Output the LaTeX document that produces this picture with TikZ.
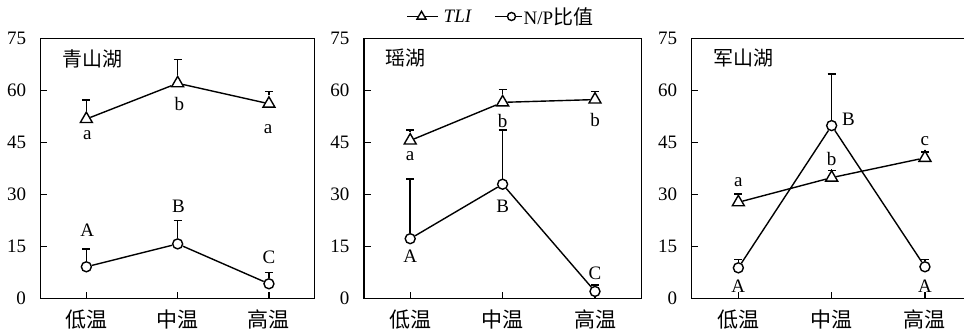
\documentclass[tikz,border=0pt]{standalone}
\usepackage{fontspec}
\setmainfont{Liberation Serif}
\newfontfamily\cjk{Noto Sans CJK SC}
\usetikzlibrary{shapes.geometric,arrows.meta,positioning}

\begin{document}
\begin{tikzpicture}[x=0.5pt,y=0.5pt,line width=0.7pt,font=\fontsize{9.5}{11}\selectfont,
		tri/.style={draw,fill=white,regular polygon,regular polygon sides=3,minimum size=6.9pt,inner sep=0pt},
		ring/.style={draw,fill=white,circle,minimum size=5pt,inner sep=0pt},
		err/.style={line width=0.75pt,-{Bar[width=4pt,line width=0.75pt]}},
		lab/.style={inner sep=0pt}]
	\useasboundingbox (0,0) rectangle (964,332);
	% legend
	\coordinate (la) at (407,315.5);
	\coordinate (lb) at (438,315.5);
	\node[tri,minimum size=5.2pt] (lt) at (421.5,315.5) {};
	\draw (la) -- (lt) -- (lb);
	\node[lab,anchor=west] (ltxt) at (443,315.5) {\textit{TLI}};
	\coordinate (lc) at (495,315.5);
	\coordinate (ld) at (521.5,315.5);
	\node[ring,minimum size=4pt] (lr) at (511.5,315.5) {};
	\draw (lc) -- (lr) -- (ld);
	\node[lab,anchor=west] (rtxt) at (523,315.5) {N/P{\cjk\fontsize{10}{11}\selectfont 比值}};
	% 青山湖
	\begin{scope}[shift={(40.7,33.3)},x=45.65pt,y=1.7345pt]
		\draw (0,0) rectangle (3,75);
		\foreach \v in {0,15,...,75} \node[lab,left=7pt] at (0,\v) {\v};
		\foreach \v in {15,30,45,60} \draw (0,\v) -- ++(3.3pt,0);
		\foreach \i/\t in {0.5/低温,1.5/中温,2.5/高温} {
			\draw (\i,0) -- ++(0,3.5pt);
			\node[lab,font=\cjk\fontsize{10.5}{12}\selectfont] at ([yshift=-10.5pt]\i,0) {\t};}
		\node[lab,font=\cjk,anchor=west] (ttl1) at ([xshift=10.5pt,yshift=-10pt]0,75) {青山湖};
		\node[tri] (t1) at (0.5,51.8) {};
		\node[tri] (t2) at (1.5,62.1) {};
		\node[tri] (t3) at (2.5,56.2) {};
		\draw (t1) -- (t2) -- (t3);
		\node[ring] (n1) at (0.5,9.2) {};
		\node[ring] (n2) at (1.5,15.8) {};
		\node[ring] (n3) at (2.5,4.3) {};
		\draw (n1) -- (n2) -- (n3);
		\coordinate (et1) at (0.5,57.5);
		\coordinate (et2) at (1.5,69.1);
		\coordinate (et3) at (2.5,60);
		\coordinate (en1) at (0.5,14.5);
		\coordinate (en2) at (1.5,22.7);
		\coordinate (en3) at (2.5,7.8);
		\draw[err] (t1.north) -- (et1);
		\draw[err] (t2.north) -- (et2);
		\draw[err] (t3.north) -- (et3);
		\draw[err] (n1.north) -- (en1);
		\draw[err] (n2.north) -- (en2);
		\draw[err] (n3.north) -- (en3);
		\node[lab] at (0.51,47.2) {a};
		\node[lab] at (1.52,56.2) {b};
		\node[lab] at (2.49,48.8) {a};
		\node[lab] at (0.51,19.7) {A};
		\node[lab] at (1.51,26.5) {B};
		\node[lab] at (2.5,12) {C};
	\end{scope}
	% 瑶湖
	\begin{scope}[shift={(364,33.3)},x=46.2pt,y=1.7345pt]
		\draw (0,0) rectangle (3,75);
		\foreach \v in {0,15,...,75} \node[lab,left=7pt] at (0,\v) {\v};
		\foreach \v in {15,30,45,60} \draw (0,\v) -- ++(3.3pt,0);
		\foreach \i/\t in {0.5/低温,1.5/中温,2.5/高温} {
			\draw (\i,0) -- ++(0,3.5pt);
			\node[lab,font=\cjk\fontsize{10.5}{12}\selectfont] at ([yshift=-10.5pt]\i,0) {\t};}
		\node[lab,font=\cjk,anchor=west] (ttl2) at ([xshift=10.5pt,yshift=-10pt]0,75) {瑶湖};
		\node[tri] (t1) at (0.5,45.6) {};
		\node[tri] (t2) at (1.5,56.6) {};
		\node[tri] (t3) at (2.5,57.4) {};
		\draw (t1) -- (t2) -- (t3);
		\node[ring] (n1) at (0.5,17.3) {};
		\node[ring] (n2) at (1.5,33) {};
		\node[ring] (n3) at (2.5,2.1) {};
		\draw (n1) -- (n2) -- (n3);
		\coordinate (et1) at (0.5,48.9);
		\coordinate (et2) at (1.5,60.5);
		\coordinate (et3) at (2.5,60);
		\coordinate (en1) at (0.5,34.7);
		\coordinate (en2) at (1.5,48.9);
		\coordinate (en3) at (2.5,4.2);
		\draw[err] (t1.north) -- (et1);
		\draw[err] (t2.north) -- (et2);
		\draw[err] (t3.north) -- (et3);
		\draw[err] (n1.north) -- (en1);
		\draw[err] (n2.north) -- (en2);
		\draw[err] (n3.north) -- (en3);
		\node[lab] at (0.5,41) {a};
		\node[lab] at (1.5,51.3) {b};
		\node[lab] at (2.5,51.5) {b};
		\node[lab] at (0.5,12.1) {A};
		\node[lab] at (1.5,26.5) {B};
		\node[lab] at (2.5,7.3) {C};
	\end{scope}
	% 军山湖
	\begin{scope}[shift={(691.7,33.3)},x=46.65pt,y=1.7345pt]
		\draw (0,0) rectangle (3,75);
		\foreach \v in {0,15,...,75} \node[lab,left=7pt] at (0,\v) {\v};
		\foreach \v in {15,30,45,60} \draw (0,\v) -- ++(3.3pt,0);
		\foreach \i/\t in {0.5/低温,1.5/中温,2.5/高温} {
			\draw (\i,0) -- ++(0,3.5pt);
			\node[lab,font=\cjk\fontsize{10.5}{12}\selectfont] at ([yshift=-10.5pt]\i,0) {\t};}
		\node[lab,font=\cjk,anchor=west] (ttl3) at ([xshift=10.5pt,yshift=-10pt]0,75) {军山湖};
		\node[tri] (t1) at (0.5,27.8) {};
		\node[tri] (t2) at (1.5,34.9) {};
		\node[tri] (t3) at (2.5,40.6) {};
		\draw (t1) -- (t2) -- (t3);
		\node[ring] (n1) at (0.5,8.9) {};
		\node[ring] (n2) at (1.5,49.9) {};
		\node[ring] (n3) at (2.5,9.2) {};
		\draw (n1) -- (n2) -- (n3);
		\coordinate (et1) at (0.5,30.4);
		\coordinate (et2) at (1.5,36.8);
		\coordinate (et3) at (2.5,42.1);
		\coordinate (en1) at (0.5,11.5);
		\coordinate (en2) at (1.5,65);
		\coordinate (en3) at (2.5,11.5);
		\draw[err] (t1.north) -- (et1);
		\draw[err] (t2.north) -- (et2);
		\draw[err] (t3.north) -- (et3);
		\draw[err] (n1.north) -- (en1);
		\draw[err] (n2.north) -- (en2);
		\draw[err] (n3.north) -- (en3);
		\node[lab] at (0.5,33.5) {a};
		\node[lab] at (1.5,40.4) {b};
		\node[lab] at (2.5,45.3) {c};
		\node[lab] at (0.5,3.5) {A};
		\node[lab] at (1.68,51.6) {B};
		\node[lab] at (2.5,3.5) {A};
	\end{scope}
\end{tikzpicture}
\end{document}
